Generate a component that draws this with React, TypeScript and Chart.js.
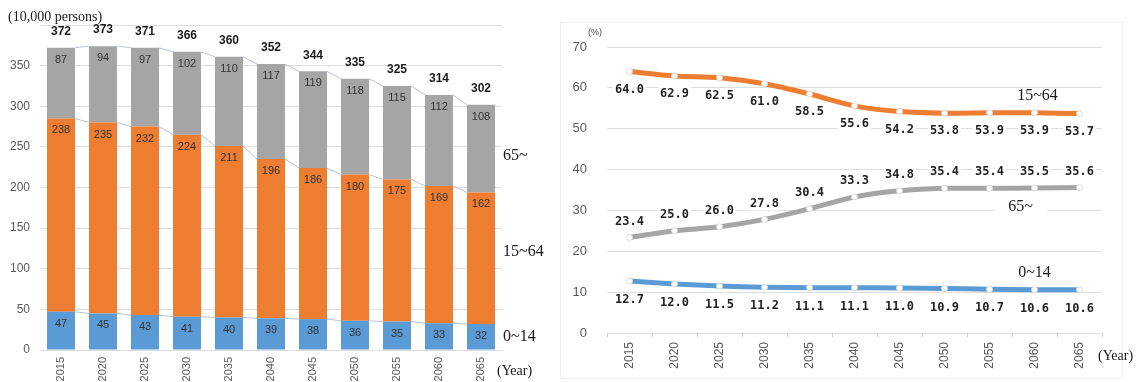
import React, { useEffect, useRef } from "react";
import { Chart, registerables } from "chart.js";

Chart.register(...registerables);

// ---- data ----
const years = ["2015", "2020", "2025", "2030", "2035", "2040", "2045", "2050", "2055", "2060", "2065"];

// population, 10,000 persons
const popYoung = [47, 45, 43, 41, 40, 39, 38, 36, 35, 33, 32];
const popWorking = [238, 235, 232, 224, 211, 196, 186, 180, 175, 169, 162];
const popElderly = [87, 94, 97, 102, 110, 117, 119, 118, 115, 112, 108];
const popTotal = [372, 373, 371, 366, 360, 352, 344, 335, 325, 314, 302];

// share of population, %
const shareWorking = [64.0, 62.9, 62.5, 61.0, 58.5, 55.6, 54.2, 53.8, 53.9, 53.9, 53.7];
const shareElderly = [23.4, 25.0, 26.0, 27.8, 30.4, 33.3, 34.8, 35.4, 35.4, 35.5, 35.6];
const shareYoung = [12.7, 12.0, 11.5, 11.2, 11.1, 11.1, 11.0, 10.9, 10.7, 10.6, 10.6];

const groupNames = ["0~14", "15~64", "65~"];

const popAxisMax = 400;
const popAxisStep = 50;
const shareAxisMax = 70;
const shareAxisStep = 10;

// ---- styles ----
const BLUE = "#5b9bd5";
const ORANGE = "#ed7d31";
const GRAY = "#a5a5a5";
const TICK_COLOR = "#595959";
const GRID_COLOR = "#dedede";
const SANS = "'Liberation Sans', Arial, sans-serif";
const SERIF = "'Liberation Serif', 'Times New Roman', serif";
const MONO = "'DejaVu Sans Mono', monospace";

const LEFT_W = 555;
const RIGHT_W = 1137 - LEFT_W;
const H = 382;

const populationPlugin = {
  id: "populationDecor",
  beforeDatasetsDraw(chart: any) {
    // thin connector lines between the tops of matching segments
    const ctx = chart.ctx;
    ctx.save();
    ctx.strokeStyle = "#b9c3d3";
    ctx.lineWidth = 1;
    chart.data.datasets.forEach((_: any, di: number) => {
      const bars = chart.getDatasetMeta(di).data as any[];
      for (let j = 0; j < bars.length - 1; j++) {
        const a = bars[j];
        const b = bars[j + 1];
        ctx.beginPath();
        ctx.moveTo(a.x + a.width / 2, a.y);
        ctx.lineTo(b.x - b.width / 2, b.y);
        ctx.stroke();
      }
    });
    ctx.restore();
  },
  afterDatasetsDraw(chart: any) {
    const ctx = chart.ctx;
    const y = chart.scales.y;
    const area = chart.chartArea;
    ctx.save();
    // segment values
    ctx.font = `11px ${SANS}`;
    ctx.fillStyle = "#333333";
    ctx.textAlign = "center";
    ctx.textBaseline = "middle";
    chart.data.datasets.forEach((ds: any, di: number) => {
      const bars = chart.getDatasetMeta(di).data as any[];
      bars.forEach((bar, j) => {
        ctx.fillText(String(ds.data[j]), bar.x, bar.y + 12);
      });
    });
    // totals
    ctx.font = `bold 12px ${SANS}`;
    ctx.fillStyle = "#1a1a1a";
    const top = chart.getDatasetMeta(chart.data.datasets.length - 1).data as any[];
    top.forEach((bar, j) => {
      ctx.fillText(String(popTotal[j]), bar.x, bar.y - 16);
    });
    // group names on the right
    ctx.font = `16px ${SERIF}`;
    ctx.fillStyle = "#1a1a1a";
    ctx.textAlign = "left";
    const nameAt = [16, 121, 239];
    groupNames.forEach((n, i) => {
      ctx.fillText(n, area.right + 1, y.getPixelForValue(nameAt[i]));
    });
    ctx.font = `14px ${SERIF}`;
    ctx.fillText("(Year)", area.right - 5, area.bottom + 21);
    // unit
    ctx.fillText("(10,000 persons)", 8, 17);
    ctx.restore();
  },
};

const sharePlugin = {
  id: "shareDecor",
  beforeDraw(chart: any) {
    const ctx = chart.ctx;
    ctx.save();
    ctx.strokeStyle = "#efefef";
    ctx.lineWidth = 1;
    ctx.strokeRect(5.5, 22.5, RIGHT_W - 20, H - 26);
    ctx.restore();
  },
  afterDatasetsDraw(chart: any) {
    const ctx = chart.ctx;
    const x = chart.scales.x;
    const y = chart.scales.y;
    const area = chart.chartArea;
    ctx.save();
    ctx.font = `bold 12px ${MONO}`;
    ctx.textAlign = "center";
    ctx.textBaseline = "middle";
    const offsets = [18, -16, 19];
    chart.data.datasets.forEach((ds: any, di: number) => {
      const pts = chart.getDatasetMeta(di).data as any[];
      pts.forEach((p, j) => {
        const txt = ds.data[j].toFixed(1);
        const ly = p.y + offsets[di];
        const w = ctx.measureText(txt).width;
        ctx.fillStyle = "#ffffff";
        ctx.fillRect(p.x - w / 2 - 2, ly - 7, w + 4, 14);
        ctx.fillStyle = "#222222";
        ctx.fillText(txt, p.x, ly);
      });
    });
    // group names
    ctx.font = `16px ${SERIF}`;
    const names = [
      { t: "15~64", v: 58, dx: 3 },
      { t: "65~", v: 30.8, dx: -14 },
      { t: "0~14", v: 14.7, dx: 0 },
    ];
    names.forEach((n) => {
      const cx = x.getPixelForValue(9) + n.dx;
      const cy = y.getPixelForValue(n.v);
      const w = ctx.measureText(n.t).width;
      ctx.fillStyle = "#ffffff";
      ctx.fillRect(cx - w / 2 - 14, cy - 8, w + 28, 16);
      ctx.fillStyle = "#1a1a1a";
      ctx.fillText(n.t, cx, cy);
    });
    ctx.textAlign = "left";
    ctx.font = `14px ${SERIF}`;
    ctx.fillText("(Year)", area.right - 4, area.bottom + 23);
    ctx.font = `9px ${SANS}`;
    ctx.fillStyle = "#444444";
    ctx.fillText("(%)", area.left - 19, area.top - 14);
    ctx.restore();
  },
};

function PopulationChart() {
  const ref = useRef<HTMLCanvasElement>(null);
  useEffect(() => {
    const chart = new Chart(ref.current as HTMLCanvasElement, {
      type: "bar",
      data: {
        labels: years,
        datasets: [
          { label: groupNames[0], data: popYoung, backgroundColor: BLUE },
          { label: groupNames[1], data: popWorking, backgroundColor: ORANGE },
          { label: groupNames[2], data: popElderly, backgroundColor: GRAY },
        ],
      },
      options: {
        responsive: false,
        animation: false,
        devicePixelRatio: 1,
        layout: { padding: { top: 25, right: 53, left: 0, bottom: 0 } },
        plugins: { legend: { display: false }, tooltip: { enabled: false } },
        datasets: { bar: { categoryPercentage: 1, barPercentage: 0.667 } },
        scales: {
          x: {
            stacked: true,
            grid: { display: false, drawTicks: false },
            border: { display: true, color: GRID_COLOR },
            ticks: {
              color: TICK_COLOR,
              font: { family: SANS, size: 11 },
              minRotation: 90,
              maxRotation: 90,
              padding: 7,
            },
            afterFit: (s: any) => {
              s.height = 32;
            },
          },
          y: {
            stacked: true,
            min: 0,
            max: popAxisMax,
            grid: { color: GRID_COLOR, drawTicks: false },
            border: { display: false },
            ticks: {
              stepSize: popAxisStep,
              color: TICK_COLOR,
              font: { family: SANS, size: 12 },
              padding: 10,
              callback: (v: any) => (v === popAxisMax ? "" : String(v)),
            },
            afterFit: (s: any) => {
              s.width = 40;
            },
          },
        },
      },
      plugins: [populationPlugin],
    });
    return () => chart.destroy();
  }, []);
  return <canvas ref={ref} width={LEFT_W} height={H} style={{ width: LEFT_W, height: H, display: "block" }} />;
}

function ShareChart() {
  const ref = useRef<HTMLCanvasElement>(null);
  useEffect(() => {
    const line = (label: string, data: number[], color: string) => ({
      label,
      data,
      borderColor: color,
      backgroundColor: "#ffffff",
      borderWidth: 5,
      pointRadius: 3,
      pointBorderWidth: 1,
      pointBorderColor: "#d9d9d9",
      pointBackgroundColor: "#ffffff",
      tension: 0.3,
    });
    const chart = new Chart(ref.current as HTMLCanvasElement, {
      type: "line",
      data: {
        labels: years,
        datasets: [
          line(groupNames[1], shareWorking, ORANGE),
          line(groupNames[2], shareElderly, GRAY),
          line(groupNames[0], shareYoung, BLUE),
        ],
      },
      options: {
        responsive: false,
        animation: false,
        devicePixelRatio: 1,
        layout: { padding: { top: 47, right: 35, left: 0, bottom: 0 } },
        plugins: { legend: { display: false }, tooltip: { enabled: false } },
        scales: {
          x: {
            offset: true,
            grid: {
              offset: true,
              drawOnChartArea: false,
              drawTicks: true,
              tickLength: 4,
              color: "#d0d0d0",
            },
            border: { display: true, color: GRID_COLOR },
            ticks: {
              color: TICK_COLOR,
              font: { family: SANS, size: 12 },
              minRotation: 90,
              maxRotation: 90,
              padding: 5,
            },
            afterFit: (s: any) => {
              s.height = 49;
            },
          },
          y: {
            min: 0,
            max: shareAxisMax,
            grid: { color: GRID_COLOR, drawTicks: false },
            border: { display: false },
            ticks: {
              stepSize: shareAxisStep,
              color: TICK_COLOR,
              font: { family: SANS, size: 13 },
              padding: 20,
            },
            afterFit: (s: any) => {
              s.width = 52;
            },
          },
        },
      },
      plugins: [sharePlugin],
    });
    return () => chart.destroy();
  }, []);
  return <canvas ref={ref} width={RIGHT_W} height={H} style={{ width: RIGHT_W, height: H, display: "block" }} />;
}

export default function App() {
  return (
    <div
      style={{
        position: "fixed",
        left: 0,
        top: 0,
        width: 1137,
        height: H,
        background: "#ffffff",
        display: "flex",
      }}
    >
      <PopulationChart />
      <ShareChart />
    </div>
  );
}
